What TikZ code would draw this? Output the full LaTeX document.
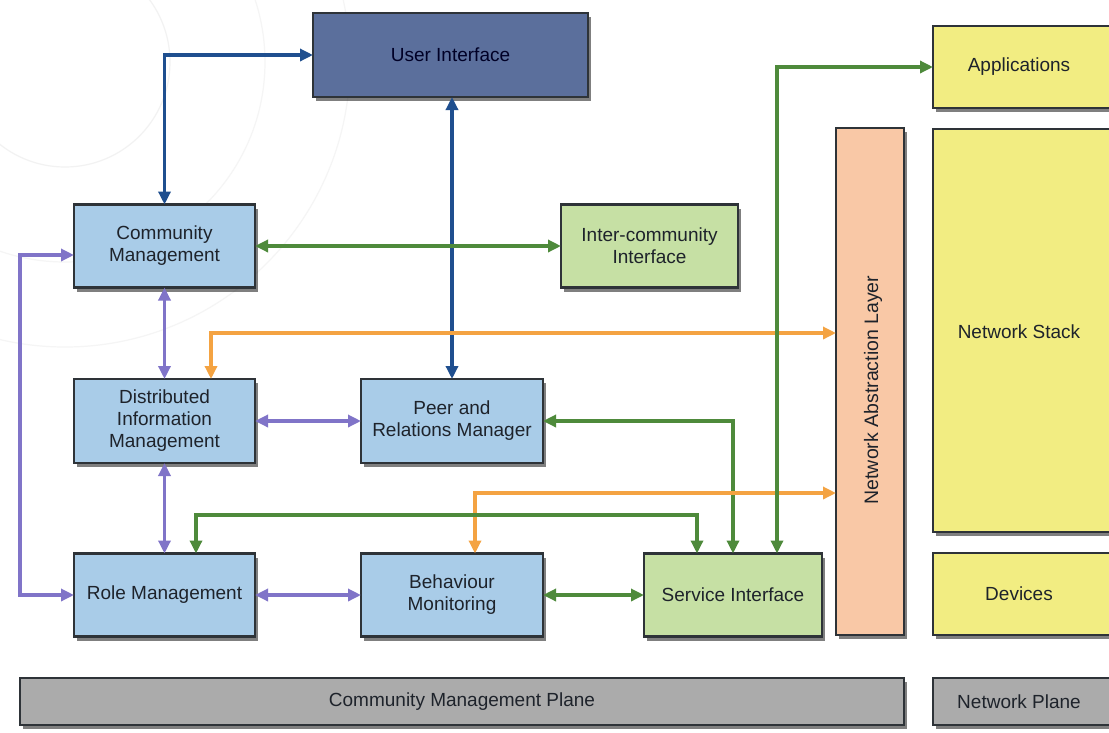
\documentclass[tikz,border=0pt]{standalone}
\usepackage{fontspec}
\setmainfont{Liberation Sans}
\usetikzlibrary{arrows.meta,shadows,calc}
\definecolor{lblue}{HTML}{A9CCE8}
\definecolor{uiblue}{HTML}{5B6F9C}
\definecolor{lgreen}{HTML}{C6E0A4}
\definecolor{lyellow}{HTML}{F2ED82}
\definecolor{lpeach}{HTML}{F9C8A6}
\definecolor{pgrey}{HTML}{ABABAB}
\definecolor{edge}{HTML}{2E3338}
\definecolor{cblue}{HTML}{1F4F8F}
\definecolor{cgreen}{HTML}{4E8A3B}
\definecolor{cpurple}{HTML}{8074C8}
\definecolor{corange}{HTML}{F4A342}
\definecolor{txt}{HTML}{1E232B}
\tikzset{
  box/.style={draw=edge, line width=2.4pt, inner sep=0pt, outer sep=0pt,
    align=center, text=txt, font=\fontsize{19}{22}\selectfont,
    drop shadow={shadow xshift=2.5pt, shadow yshift=-4pt, opacity=0.5, fill=black}},
  bluebox/.style={box, fill=lblue},
  greenbox/.style={box, fill=lgreen},
  yellowbox/.style={box, fill=lyellow},
  planebox/.style={box, fill=pgrey},
  lbl/.style={text=txt, font=\fontsize{19}{22}\selectfont},
  conn/.style={line width=3.3pt, {Triangle[length=13pt,width=12pt]}-{Triangle[length=13pt,width=12pt]}},
  bconn/.style={conn, draw=cblue},
  gconn/.style={conn, draw=cgreen},
  pconn/.style={conn, draw=cpurple},
  oconn/.style={conn, draw=corange},
}
\begin{document}
\begin{tikzpicture}[x=1pt,y=-1pt]
\useasboundingbox (0,0) rectangle (1109,732);
\fill[white] (0,0) rectangle (1109,732);
% faint background circles
\begin{scope}
\clip (0,0) rectangle (1109,732);
\draw[black!5, line width=1.2pt] (65,62) circle (105);
\draw[black!4, line width=1.2pt] (65,62) circle (200);
\draw[black!4, line width=1.2pt] (65,62) circle (285);
\end{scope}
% nodes
\node[box, fill=uiblue, text=black!85!blue, minimum width=275, minimum height=84] (ui) at (450.5,55) {User Interface};
\node[bluebox, minimum width=181, minimum height=83] (cm) at (164.5,246) {Community\\Management};
\node[greenbox, minimum width=177, minimum height=83] (ici) at (649.5,246) {Inter-community\\Interface};
\node[bluebox, minimum width=181, minimum height=84] (dim) at (164.5,421) {Distributed\\Information\\Management};
\node[bluebox, minimum width=182, minimum height=84] (prm) at (452,421) {Peer and\\Relations Manager};
\node[bluebox, minimum width=181, minimum height=83] (rm) at (164.5,595) {Role Management};
\node[bluebox, minimum width=182, minimum height=83] (bm) at (452,595) {Behaviour\\Monitoring};
\node[greenbox, minimum width=178, minimum height=83] (si) at (733,595) {Service Interface};
\node[box, fill=lpeach, minimum width=68, minimum height=507] (nal) at (870,381.5) {};
\node[rotate=90, text=txt, font=\fontsize{19.5}{22}\selectfont] (nallabel) at (873,390) {Network Abstraction Layer};
\node[yellowbox, minimum width=190, minimum height=82] (apps) at (1028,67) {};
\node[lbl] (appslabel) at (1019,67) {Applications};
\node[yellowbox, minimum width=190, minimum height=403] (ns) at (1028,330.5) {};
\node[lbl] (nslabel) at (1019,332) {Network Stack};
\node[yellowbox, minimum width=190, minimum height=82] (dev) at (1028,594) {};
\node[lbl] (devlabel) at (1019,594) {Devices};
\node[planebox, minimum width=884, minimum height=47] (cmp) at (462,701.5) {Community Management Plane};
\node[planebox, minimum width=190, minimum height=47] (np) at (1028,701.5) {};
\node[lbl] (nplabel) at (1019,701.5) {Network Plane};
% connectors
\draw[bconn] (cm.north) |- (ui.west);
\draw[bconn] (prm.north |- ui.south) -- (prm.north);
\draw[gconn] (cm.east) -- (ici.west);
\draw[pconn] (cm.south) -- (dim.north);
\coordinate (lt) at (20,255);
\draw[pconn] ([yshift=-9pt]cm.west) -- (lt) |- (rm.west);
\coordinate (o1) at (211,333);
\draw[oconn] ([xshift=46.5pt]dim.north) -- (o1) -- (o1 -| nal.west);
\draw[pconn] (dim.east) -- (prm.west);
\draw[pconn] (dim.south) -- (rm.north);
\draw[gconn] (prm.east) -| (si.north);
\coordinate (o2) at (475,493);
\draw[oconn] ([xshift=23pt]bm.north) -- (o2) -- (o2 -| nal.west);
\coordinate (g1) at (196,515);
\coordinate (g2) at (697,515);
\draw[gconn] ([xshift=31.5pt]rm.north) -- (g1) -- (g2) -- ([xshift=-36pt]si.north);
\draw[gconn] ([xshift=44pt]si.north) |- (apps.west);
\draw[pconn] (rm.east) -- (bm.west);
\draw[gconn] (bm.east) -- (si.west);
\end{tikzpicture}
\end{document}
